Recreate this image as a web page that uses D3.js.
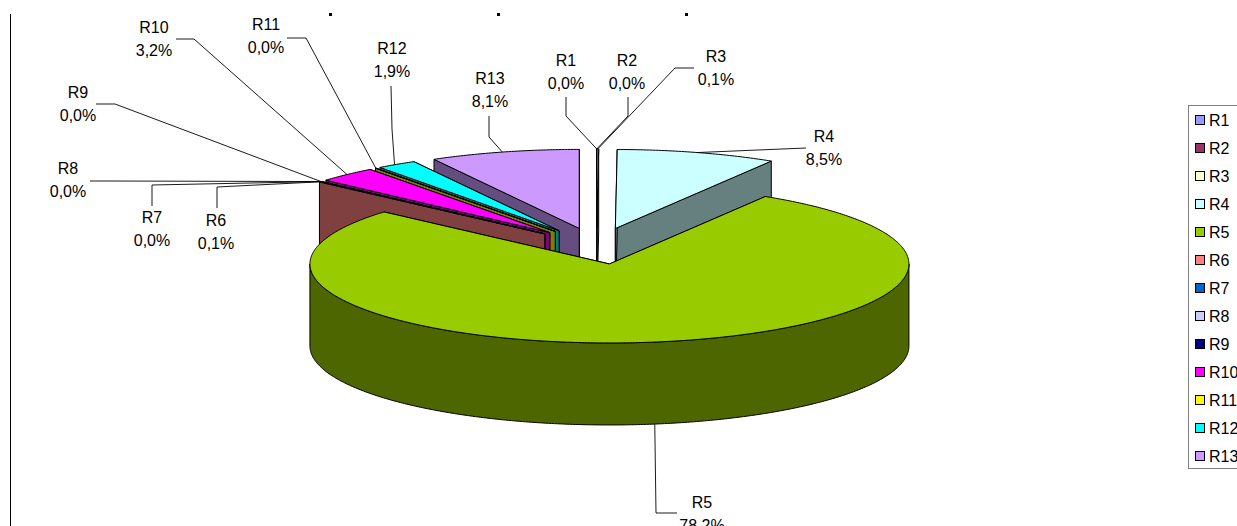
<!DOCTYPE html>
<html><head><meta charset="utf-8">
<script src="https://cdn.jsdelivr.net/npm/d3@7/dist/d3.min.js"></script>
<style>html,body{margin:0;padding:0;background:#fff;overflow:hidden}svg{display:block}text{font-family:"Liberation Sans",Arial,sans-serif;fill:#000}</style>
</head><body><svg id="c" width="1237" height="526"></svg>
<script>
const categories=["R1","R2","R3","R4","R5","R6","R7","R8","R9","R10","R11","R12","R13"];
const values=[0.01,0.01,0.08,8.48,78.16,0.08,0.01,0.01,0.01,3.2,0.03,1.88,8.06];
const colors=["#9999FF","#993366","#FFFFCC","#CCFFFF","#99CC00","#FF8080","#0066CC","#CCCCFF","#000080","#FF00FF","#FFFF00","#00FFFF","#CC99FF"];
// label layout: centre x, first-line y, leader polyline start and elbow, tip shift
const labelLayout=[
 {x:566,y:60,lead:[[566,97],[566,116]]},
 {x:627,y:60,lead:[[628,97],[628,116]]},
 {x:716,y:56,lead:[[694,68],[675,68]]},
 {x:824,y:136,lead:[[806,148]]},
 {x:702,y:502,lead:[[677,513],[656,513]],tipDx:0},
 {x:216,y:220,lead:[[217,208],[217,187]]},
 {x:152,y:217,lead:[[152,206],[152,185]]},
 {x:68,y:168,lead:[[90,181],[108,181]]},
 {x:78,y:92,lead:[[96,104],[115,104]]},
 {x:154,y:27,lead:[[176,39],[194,39]]},
 {x:266,y:24,lead:[[287,38],[306,38]]},
 {x:392,y:48,lead:[[391,86],[392,129]],tipDx:-2},
 {x:490,y:78,lead:[[489,116],[489,137]],tipDx:-2}
];
const CX=596.5,CY=246,RX=299.5,RY=79,EXPLODE=0.23,DEPTH=82;
const sliceNudgeX=[0,0,0,0,2.5,0,0,0,0,0,0,0,0];
const sx=d3.scaleLinear().domain([-1,1]).range([CX-RX,CX+RX]);
const sy=d3.scaleLinear().domain([-1,1]).range([CY+RY,CY-RY]);
// small perspective correction of the pie's angles, as the 3D view foreshortens them
const rad=d=>d*Math.PI/180;
const warp=d3.scaleLinear().domain([0,31,312.3,324,331,360].map(rad)).range([0,31.5,311.3,323,331,360].map(rad));
const svg=d3.select("#c");
const arcs=d3.pie().sort(null).value(d=>d)(values).map((a,i)=>{
  const start=warp(a.startAngle),end=warp(a.endAngle),mid=(start+end)/2;
  return {i,start,end,mid,ox:EXPLODE*Math.sin(mid),oy:EXPLODE*Math.cos(mid),nx:sliceNudgeX[i]};
});
const P=(a,t,r,dz)=>[sx(a.ox+r*Math.sin(t))+a.nx,sy(a.oy+r*Math.cos(t))+(dz||0)];
const line=d3.line();
function rimAngles(a0,a1){const n=Math.max(2,Math.ceil((a1-a0)/0.01));return d3.range(n+1).map(k=>a0+(a1-a0)*k/n);}
function topPath(a){return line([P(a,0,0),...rimAngles(a.start,a.end).map(t=>P(a,t,1))])+"Z";}
function radialWall(a,t){return line([P(a,0,0),P(a,t,1),P(a,t,1,DEPTH),P(a,0,0,DEPTH)])+"Z";}
function outerWall(a){
  const lo=Math.max(a.start,Math.PI/2),hi=Math.min(a.end,Math.PI*1.5);
  if(hi<=lo)return null;
  const t=rimAngles(lo,hi);
  return line([...t.map(v=>P(a,v,1)),...t.slice().reverse().map(v=>P(a,v,1,DEPTH))])+"Z";
}
const dark=c=>{const r=d3.rgb(c);return d3.rgb(r.r/2,r.g/2,r.b/2).formatHex();};
const order=arcs.slice().sort((p,q)=>d3.descending(Math.cos(p.mid),Math.cos(q.mid)));
const pie=svg.append("g").attr("stroke","#000").attr("stroke-width",1).attr("stroke-linejoin","miter");
order.forEach(a=>{
  const g=pie.append("g"),col=colors[a.i],wall=dark(col);
  g.append("path").attr("d",radialWall(a,a.end)).attr("fill",wall);
  g.append("path").attr("d",radialWall(a,a.start)).attr("fill",wall);
  const w=outerWall(a); if(w)g.append("path").attr("d",w).attr("fill",wall);
  g.append("path").attr("d",topPath(a)).attr("fill",col);
});
// leaders and labels
const fmt=v=>d3.format(".1f")(v).replace(".",",")+"%";
const leaders=svg.append("g").attr("fill","none").attr("stroke","#000").attr("stroke-width",0.9);
arcs.forEach(a=>{
  const L=labelLayout[a.i];
  const front=Math.cos(a.mid)<0;
  const tip=P(a,a.mid,1,front?DEPTH:0);
  tip[0]+=L.tipDx||0;
  leaders.append("path").attr("d",line([...L.lead,tip]));
  const t=svg.append("text").attr("text-anchor","middle").attr("font-size",16);
  t.append("tspan").attr("x",L.x).attr("y",L.y+5.5).text(categories[a.i]);
  t.append("tspan").attr("x",L.x).attr("y",L.y+28.5).text(fmt(values[a.i]));
});
// frame remnants
svg.append("line").attr("x1",10.5).attr("x2",10.5).attr("y1",14).attr("y2",526).attr("stroke","#000").attr("stroke-width",1);
const titleDots=[330,498,686];
svg.selectAll("rect.dot").data(titleDots).join("rect").attr("class","dot").attr("x",d=>d-1).attr("y",13).attr("width",3).attr("height",3).attr("fill","#000");
// legend
const ly=d3.scaleLinear().domain([0,12]).range([120,456]);
const lg=svg.append("g");
lg.append("rect").attr("x",1188.5).attr("y",105.5).attr("width",60).attr("height",363).attr("fill","#fff").attr("stroke","#808080").attr("stroke-width",1);
categories.forEach((c,i)=>{
  lg.append("rect").attr("x",1195.5).attr("y",ly(i)-4.5).attr("width",9).attr("height",9).attr("fill",colors[i]).attr("stroke","#000").attr("stroke-width",1);
  lg.append("text").attr("x",1209).attr("y",ly(i)+5.5).attr("font-size",16).text(c);
});
</script></body></html>
